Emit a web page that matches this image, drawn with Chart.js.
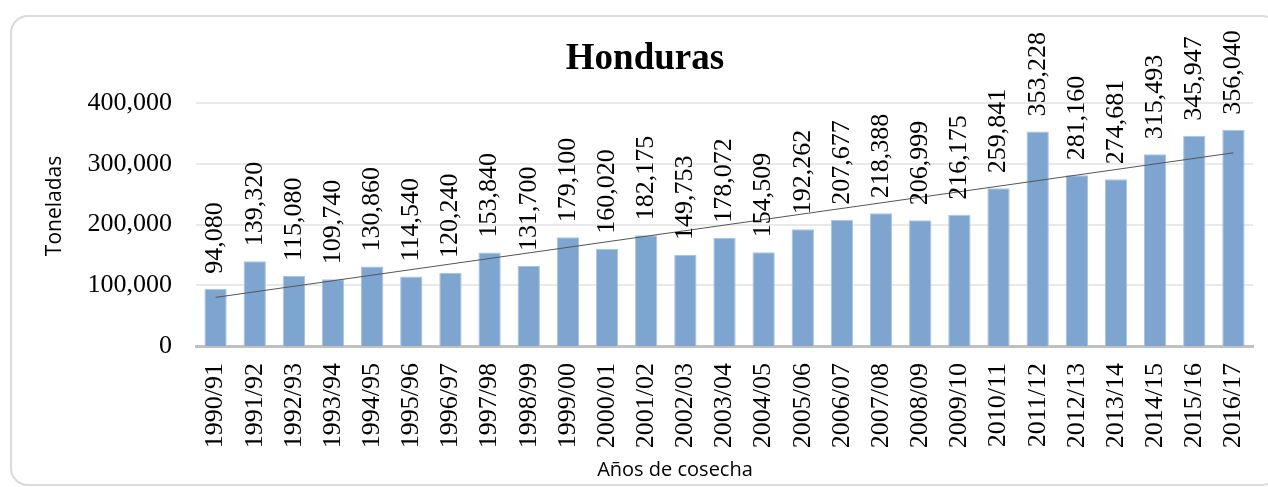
<!DOCTYPE html>
<html>
<head>
<meta charset="utf-8">
<script src="https://cdn.jsdelivr.net/npm/chart.js@4/dist/chart.umd.min.js"></script>
<style>
  html, body { margin: 0; padding: 0; background: #fff; overflow: hidden; }
  #frame {
    position: absolute; left: 10px; top: 15px;
    width: 1270px; height: 471px; box-sizing: border-box;
    border: 2px solid #dadada; border-radius: 18px;
  }
  #wrap { position: relative; width: 1266px; height: 467px; }
</style>
</head>
<body>
<div id="frame"><div id="wrap"><canvas id="hondurasChart"></canvas></div></div>
<script>
// Cosecha por año (toneladas)
const years = ['1990/91', '1991/92', '1992/93', '1993/94', '1994/95', '1995/96', '1996/97',
  '1997/98', '1998/99', '1999/00', '2000/01', '2001/02', '2002/03', '2003/04', '2004/05',
  '2005/06', '2006/07', '2007/08', '2008/09', '2009/10', '2010/11', '2011/12', '2012/13',
  '2013/14', '2014/15', '2015/16', '2016/17'];
const toneladas = [94080, 139320, 115080, 109740, 130860, 114540, 120240, 153840, 131700,
  179100, 160020, 182175, 149753, 178072, 154509, 192262, 207677, 218388, 206999, 216175,
  259841, 353228, 281160, 274681, 315493, 345947, 356040];
// trend line ends
const trendEnds = [80000, 318000];
const yTicks = [0, 100000, 200000, 300000, 400000];

const trend = years.map(function (y, i) {
  if (i === 0) return trendEnds[0];
  if (i === years.length - 1) return trendEnds[1];
  return null;
});

const fmt = function (v) { return Number(v).toLocaleString('en-US'); };

// value labels above the bars + titles placed like the Excel original
const extras = {
  id: 'extras',
  afterDatasetsDraw: function (chart) {
    const meta = chart.getDatasetMeta(1);
    const ctx = chart.ctx;
    ctx.save();
    ctx.font = '26px "Liberation Serif"';
    ctx.fillStyle = '#000';
    ctx.textAlign = 'left';
    ctx.textBaseline = 'middle';
    meta.data.forEach(function (bar, i) {
      ctx.save();
      ctx.translate(bar.x, bar.y - 15);
      ctx.rotate(-Math.PI / 2);
      ctx.fillText(fmt(toneladas[i]), 0, 0);
      ctx.restore();
    });
    ctx.restore();
  },
  afterDraw: function (chart) {
    const ctx = chart.ctx;
    ctx.save();
    ctx.fillStyle = '#000';
    ctx.textAlign = 'center';
    ctx.textBaseline = 'middle';
    ctx.font = 'bold 37px "Liberation Serif"';
    ctx.fillText('Honduras', chart.width / 2, 42);
    ctx.font = '20px "Open Sans"';
    ctx.fillText('Años de cosecha', 663, 453);
    ctx.font = '21px "Open Sans"';
    ctx.translate(43, 189);
    ctx.rotate(-Math.PI / 2);
    ctx.fillText('Toneladas', 0, 0);
    ctx.restore();
  }
};

new Chart(document.getElementById('hondurasChart'), {
  data: {
    labels: years,
    datasets: [{
      type: 'line',
      label: 'Tendencia',
      data: trend,
      spanGaps: true,
      borderColor: '#555555',
      borderWidth: 1,
      pointRadius: 0,
      fill: false,
      order: 0
    }, {
      type: 'bar',
      label: 'Toneladas',
      data: toneladas,
      backgroundColor: '#7ea5d0',
      borderColor: '#a9c3e2',
      borderWidth: 1,
      barPercentage: 0.57,
      categoryPercentage: 1,
      order: 1
    }]
  },
  options: {
    responsive: true,
    maintainAspectRatio: false,
    animation: false,
    layout: { padding: { left: 0, right: 25, top: 86, bottom: 0 } },
    plugins: {
      legend: { display: false },
      tooltip: { enabled: false },
      title: { display: false }
    },
    scales: {
      x: {
        grid: { display: false },
        border: { color: '#c0c0c0', width: 3 },
        ticks: {
          autoSkip: false,
          minRotation: 90,
          maxRotation: 90,
          padding: 9,
          color: '#000',
          font: { family: '"Liberation Serif"', size: 26 }
        },
        afterFit: function (scale) { scale.height = 138; }
      },
      y: {
        min: 0,
        max: 400000,
        afterBuildTicks: function (scale) {
          scale.ticks = yTicks.map(function (v) { return { value: v }; });
        },
        grid: {
          drawTicks: false,
          color: '#e9e9e9',
          lineWidth: function (c) { return c.tick && c.tick.value === 0 ? 0 : 2; }
        },
        border: { display: false },
        ticks: {
          padding: 24,
          color: '#000',
          font: { family: '"Liberation Serif"', size: 26 },
          callback: function (v) { return fmt(v); }
        },
        afterFit: function (scale) { scale.width = 184; }
      }
    }
  },
  plugins: [extras]
});
</script>
</body>
</html>
